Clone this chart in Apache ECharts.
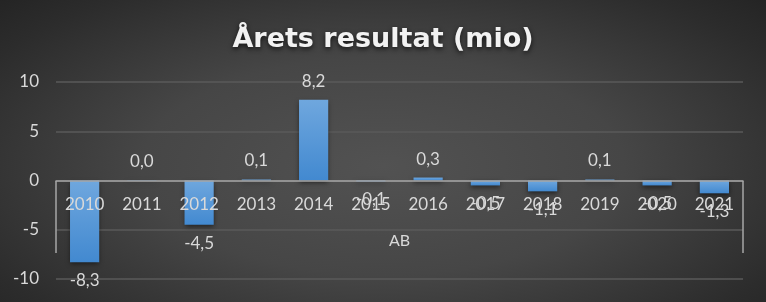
<!DOCTYPE html>
<html><head><meta charset="utf-8">
<script src="https://cdn.jsdelivr.net/npm/echarts@6/dist/echarts.min.js"></script>
<style>
html,body{margin:0;padding:0;}
#c{width:766px;height:302px;background:radial-gradient(ellipse 70% 80% at 50% 55%, #525252 0%, #464646 45%, #2c2c2c 85%, #242424 100%);}
</style></head>
<body><div id="c"></div>
<script>
const titleText = 'Årets resultat (mio)';
const axisName = 'AB';
const categories = ['2010','2011','2012','2013','2014','2015','2016','2017','2018','2019','2020','2021'];
const values = [-8.3, 0.04, -4.5, 0.1, 8.2, -0.1, 0.3, -0.5, -1.1, 0.1, -0.5, -1.3];
const yMin = -10, yMax = 10, yStep = 5;

const font = 'Lato, "Open Sans", sans-serif';
const chart = echarts.init(document.getElementById('c'), null, {renderer:'canvas'});
chart.setOption({
  backgroundColor: 'transparent',
  animation: false,
  title: {
    text: titleText, left: 'center', top: 21,
    textStyle: {color:'#f2f2f2', fontSize: 27, fontWeight: 'bold', fontFamily: '"DejaVu Sans", sans-serif',
      textShadowColor:'rgba(0,0,0,0.7)', textShadowBlur: 5, textShadowOffsetY: 2}
  },
  grid: {left: 56, right: 23, top: 82, bottom: 23, containLabel: false, outerBoundsMode: 'none'},
  xAxis: {
    type: 'category', data: categories, z: 5, position: 'bottom', offset: -98,
    name: axisName, nameLocation: 'middle', nameGap: 52,
    nameTextStyle: {color:'#d9d9d9', fontSize: 16, fontFamily: font},
    axisLine: {onZero: false, lineStyle: {color:'#a6a6a6', width: 1.5}},
    axisTick: {show: true, length: 72, interval: function(i){ return i === 0; }, lineStyle: {color:'#a6a6a6', width: 1.5}},
    axisLabel: {color:'#d9d9d9', fontSize: 17, fontFamily: font, margin: 15, interval: 0}
  },
  yAxis: {
    type: 'value', min: yMin, max: yMax, interval: yStep,
    axisLine: {show: false}, axisTick: {show: false},
    axisLabel: {color:'#d9d9d9', fontSize: 17, fontFamily: font, margin: 17},
    splitLine: {lineStyle: {color:'#5a5a5a', width: 1.5}}
  },
  series: [{
    type: 'bar', barWidth: '51%',
    data: values.map(v => ({value: v, label: {position: v < 0 ? 'bottom' : 'top'}})),
    itemStyle: {
      color: new echarts.graphic.LinearGradient(0,0,0,1,[{offset:0,color:'#6fa7de'},{offset:1,color:'#4289d0'}]),
      shadowColor: 'rgba(0,0,0,0.55)', shadowBlur: 5, shadowOffsetY: 2
    },
    label: {show: true, color:'#d9d9d9', fontSize: 17, fontFamily: font, distance: 10,
      formatter: p => p.value.toFixed(1).replace('.', ',')}
  }]
});
</script></body></html>
